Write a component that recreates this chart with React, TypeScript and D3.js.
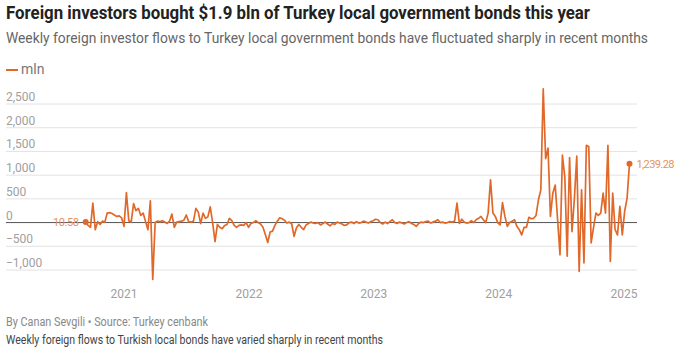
import React, { useEffect, useRef } from 'react';
import * as d3 from 'd3';

// weekly foreign flows, mln USD, first week ~2020-09-11
const startDate = '2020-09-11';
const flows: number[] = [
  10.58, -60, -100, 410, -150, 20, -40, 30, 10, 200,
  210, 190, 160, 130, 140, 100, -80, 630, 40, 10,
  400, 250, 300, 150, 200, 20, -150, 460, -1200, 0,
  30, 20, 40, 10, -20, 30, 180, -100, 10, 20,
  30, 50, 160, 20, 10, 30, 300, 220, -20, 200,
  90, 120, 330, 0, -400, -40, -100, -130, -60, -40,
  90, 40, -60, -100, -60, -50, -60, 0, -100, -20,
  0, 40, 0, -30, -100, -250, -420, -200, -180, -60,
  30, 100, 80, 50, -10, 10, -30, -290, -110, -40,
  -100, -150, -50, -20, 10, -10, -20, 0, -50, -20,
  10, -30, -70, -20, -40, 10, -10, -30, -60, -50,
  0, 10, -20, 20, -10, 0, 30, 10, -10, 20,
  40, 70, 60, 0, -30, 10, -20, 20, 60, 0,
  -20, 10, -10, -30, 0, 20, -20, -40, -80, -20,
  10, 0, 20, 30, -10, 10, 30, 60, 0, 10,
  -10, 0, 20, 10, 30, 410, -20, 70, 10, -10,
  0, 40, 0, 60, 90, 130, 60, 0, 200, 900,
  200, 130, 0, -50, 420, 130, -80, 0, 30, 60,
  -80, -150, -260, -100, -100, 110, 80, 90, 150, 480,
  690, 2820, 1350, 1570, 130, 620, 790, 60, -680, 1420,
  970, -710, 1370, -190, 500, 1400, -1030, 690, -850, 1630,
  1600, -430, -100, 200, 150, 200, 620, 200, 1630, -820,
  620, -150, -260, 340, -260, 240, 510, 1239.28
];
const yTicks = [-1000, -500, 0, 500, 1000, 1500, 2000, 2500];
const yearTicks = ['2021', '2022', '2023', '2024', '2025'];

const title = 'Foreign investors bought $1.9 bln of Turkey local government bonds this year';
const subtitle = 'Weekly foreign investor flows to Turkey local government bonds have fluctuated sharply in recent months';
const source = 'By Canan Sevgili \u2022 Source: Turkey cenbank';
const caption = 'Weekly foreign flows to Turkish local bonds have varied sharply in recent months';

const W = 680;
const H = 352;
const orange = '#e0692a';
const font = 'Roboto, "Open Sans", sans-serif';

export default function App() {
  const ref = useRef<SVGSVGElement>(null);

  useEffect(() => {
    const svg = d3.select(ref.current);
    svg.selectAll('*').remove();

    const parse = d3.timeParse('%Y-%m-%d');
    const t0 = parse(startDate) as Date;
    const data = flows.map((v, i) => ({ date: d3.timeDay.offset(t0, i * 7), value: v }));

    const x = d3.scaleTime()
      .domain([parse('2021-01-01') as Date, parse('2025-01-01') as Date])
      .range([124, 624]);
    const y = d3.scaleLinear().domain([-1000, 2500]).range([270, 104]);

    svg.append('text').attr('x', 6).attr('y', 19)
      .attr('font-size', 18).attr('font-weight', 'bold').attr('fill', '#222')
      .attr('textLength', 584).attr('lengthAdjust', 'spacingAndGlyphs')
      .text(title);
    svg.append('text').attr('x', 6).attr('y', 43)
      .attr('font-size', 14.5).attr('fill', '#666')
      .attr('textLength', 642).attr('lengthAdjust', 'spacingAndGlyphs')
      .text(subtitle);

    // legend
    svg.append('line').attr('x1', 6).attr('x2', 18).attr('y1', 70).attr('y2', 70)
      .attr('stroke', orange).attr('stroke-width', 2);
    svg.append('text').attr('x', 21).attr('y', 74)
      .attr('font-size', 14).attr('fill', '#777').text('mln');

    // grid + y labels
    const grid = svg.append('g');
    grid.selectAll('line').data(yTicks).enter().append('line')
      .attr('x1', 6).attr('x2', 637)
      .attr('y1', d => y(d)).attr('y2', d => y(d))
      .attr('stroke', d => (d === 0 ? '#555' : '#e2e2e2'))
      .attr('stroke-width', 1);
    grid.selectAll('text').data(yTicks).enter().append('text')
      .attr('x', 6).attr('y', d => y(d) - 3)
      .attr('font-size', 12).attr('fill', '#a0a0a0')
      .text(d => d3.format(',')(d));

    // x labels
    svg.append('g').selectAll('text').data(yearTicks).enter().append('text')
      .attr('x', d => x(parse(d + '-01-01') as Date))
      .attr('y', 298)
      .attr('text-anchor', 'middle')
      .attr('font-size', 12).attr('fill', '#a0a0a0')
      .text(d => d);

    const lineFunc = d3.line<{ date: Date; value: number }>()
      .x(d => x(d.date))
      .y(d => y(d.value));

    svg.append('path')
      .attr('fill', 'none')
      .attr('stroke', orange)
      .attr('stroke-width', 1.7)
      .attr('stroke-linejoin', 'round')
      .attr('d', lineFunc(data));

    const first = data[0];
    const last = data[data.length - 1];
    svg.append('circle').attr('cx', x(first.date)).attr('cy', y(first.value)).attr('r', 3).attr('fill', orange);
    svg.append('circle').attr('cx', x(last.date)).attr('cy', y(last.value)).attr('r', 3).attr('fill', orange);
    svg.append('text').attr('x', x(first.date) - 7).attr('y', y(first.value) + 4)
      .attr('text-anchor', 'end')
      .attr('font-size', 11).attr('letter-spacing', -0.4).attr('fill', '#e3935e')
      .text(d3.format(',.2f')(first.value));
    svg.append('text').attr('x', x(last.date) + 7).attr('y', y(last.value) + 4)
      .attr('font-size', 11).attr('letter-spacing', -0.6).attr('fill', '#e3935e')
      .text(d3.format(',.2f')(last.value));

    svg.append('text').attr('x', 6).attr('y', 326)
      .attr('font-size', 12).attr('fill', '#888')
      .attr('textLength', 202).attr('lengthAdjust', 'spacingAndGlyphs')
      .text(source);
    svg.append('text').attr('x', 6).attr('y', 344)
      .attr('font-size', 12).attr('fill', '#444')
      .attr('textLength', 377).attr('lengthAdjust', 'spacingAndGlyphs')
      .text(caption);
  }, []);

  return (
    <svg
      ref={ref}
      width={W}
      height={H}
      style={{ position: 'absolute', left: 0, top: 0, background: '#fff', fontFamily: font }}
    />
  );
}
